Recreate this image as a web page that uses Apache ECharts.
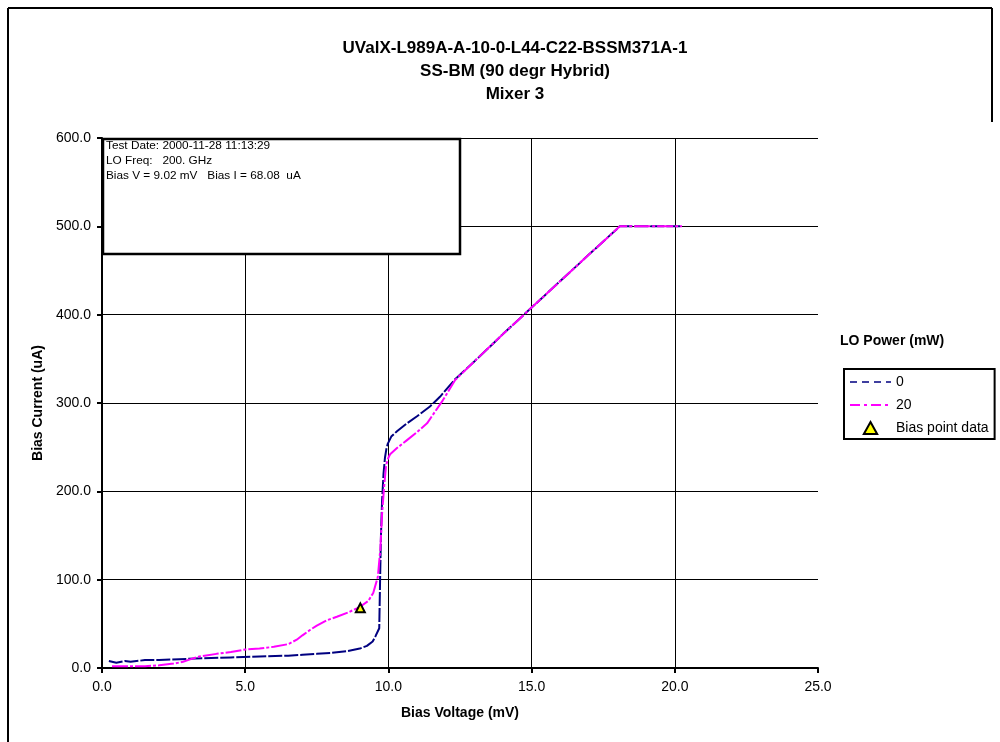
<!DOCTYPE html>
<html>
<head>
<meta charset="utf-8">
<script src="https://cdn.jsdelivr.net/npm/echarts@6/dist/echarts.min.js"></script>
<style>
html,body{margin:0;padding:0;background:#fff;}
#chart{width:1000px;height:742px;}
</style>
</head>
<body>
<div id="chart"></div>
<script>
// ---- Data ----
const titleLines = ['UValX-L989A-A-10-0-L44-C22-BSSM371A-1', 'SS-BM (90 degr Hybrid)', 'Mixer 3'];
const xTitle = 'Bias Voltage (mV)';
const yTitle = 'Bias Current (uA)';
const legendTitle = 'LO Power (mW)';
const infoLines = ['Test Date: 2000-11-28 11:13:29', 'LO Freq:   200. GHz', 'Bias V = 9.02 mV   Bias I = 68.08  uA'];
const seriesNames = ['0', '20', 'Bias point data'];

// LO power 0 mW
const v0 = [0.24, 0.5, 0.8, 1.0, 1.5, 2.0, 2.7, 3.5, 4.5, 5.5, 6.5, 7.0, 7.5, 8.0, 8.55, 9.0, 9.25, 9.45, 9.55, 9.68, 9.71, 9.74, 9.78, 9.83, 9.88, 9.93, 9.98, 10.1, 10.3, 10.65, 11.0, 11.45, 11.8, 12.33, 13.0, 14.0, 15.0, 16.0, 17.0, 18.08, 19.0, 20.25];
const i0 = [8, 6, 8, 7, 9, 9, 10, 11, 12, 13, 14, 15, 16, 17, 19, 22, 25, 30, 36, 45, 100, 150, 190, 220, 238, 248, 254, 262, 268, 277, 285, 296, 307, 327, 347, 378, 408, 438, 468, 500, 500, 500];

// LO power 20 mW
const v20 = [0.35, 1.0, 1.5, 2.0, 2.5, 2.83, 3.1, 3.4, 4.0, 4.5, 5.0, 5.5, 6.0, 6.5, 6.8, 7.0, 7.26, 7.5, 7.85, 8.2, 8.6, 9.0, 9.3, 9.47, 9.63, 9.72, 9.78, 9.85, 9.92, 10.0, 10.06, 10.3, 10.65, 11.0, 11.35, 11.9, 12.33, 13.0, 14.0, 15.0, 16.0, 17.0, 18.08, 19.0, 20.25];
const i20 = [2, 2, 2, 3, 5, 7, 10, 13, 16, 18, 21, 22, 24, 27, 32, 37, 43, 48, 54, 58, 63, 69, 76, 85, 103, 135, 175, 205, 230, 238, 242, 249, 258, 267, 277, 303, 326, 347, 378, 408, 438, 468, 500, 500, 500];

// Bias point
const biasV = [9.02];
const biasI = [68.08];

const xTicks = {min: 0, max: 25, interval: 5};
const yTicks = {min: 0, max: 600, interval: 100};

// ---- Chart ----
const FONT = "'Liberation Sans', Arial, sans-serif";
const chart = echarts.init(document.getElementById('chart'), null, {renderer: 'canvas'});

const zip = (a, b) => a.map((v, k) => [v, b[k]]);
const hiddenSym = {color: 'rgba(0,0,0,0)', borderWidth: 0, opacity: 0};

chart.setOption({
  animation: false,
  backgroundColor: '#ffffff',
  title: {
    text: titleLines.join('\n'),
    left: 510,
    top: 32,
    textAlign: 'center',
    textStyle: {fontFamily: FONT, fontSize: 17, fontWeight: 'bold', color: '#000', lineHeight: 23}
  },
  grid: {left: 102, right: 182, top: 138, bottom: 74, containLabel: false},
  xAxis: {
    type: 'value', min: xTicks.min, max: xTicks.max, interval: xTicks.interval,
    name: xTitle, nameLocation: 'middle', nameGap: 38,
    nameTextStyle: {fontFamily: FONT, fontSize: 14, fontWeight: 'bold', color: '#000'},
    axisLine: {show: true, onZero: false, lineStyle: {color: '#000', width: 2}},
    axisTick: {show: true, inside: false, length: 5, lineStyle: {color: '#000', width: 2}},
    axisLabel: {fontFamily: FONT, fontSize: 14, color: '#000', margin: 12, formatter: v => v.toFixed(1)},
    splitLine: {show: true, showMinLine: false, showMaxLine: false, lineStyle: {color: '#000', width: 1}}
  },
  yAxis: {
    type: 'value', min: yTicks.min, max: yTicks.max, interval: yTicks.interval,
    name: yTitle, nameLocation: 'middle', nameGap: 56,
    nameTextStyle: {fontFamily: FONT, fontSize: 14, fontWeight: 'bold', color: '#000'},
    axisLine: {show: true, onZero: false, lineStyle: {color: '#000', width: 2}},
    axisTick: {show: true, inside: false, length: 5, lineStyle: {color: '#000', width: 2}},
    axisLabel: {fontFamily: FONT, fontSize: 14, color: '#000', margin: 11, formatter: v => v.toFixed(1)},
    splitLine: {show: true, showMinLine: false, lineStyle: {color: '#000', width: 1}}
  },
  legend: {
    orient: 'vertical',
    left: 844, top: 369,
    padding: [6, 6, 4, 5],
    itemWidth: 41, itemHeight: 12, itemGap: 9, itemTextGap: 7,
    symbolKeepAspect: true,
    borderColor: '#000', borderWidth: 2,
    backgroundColor: '#fff',
    textStyle: {fontFamily: FONT, fontSize: 14, color: '#000'},
    data: [
      {name: seriesNames[0], lineStyle: {type: [7, 5], width: 1.5}, itemStyle: hiddenSym},
      {name: seriesNames[1], lineStyle: {type: [10, 4, 3, 4], width: 2}, itemStyle: hiddenSym},
      {name: seriesNames[2], icon: 'path://M5,0 L10,9 L0,9 Z', itemStyle: {color: '#ffff00', borderColor: '#000', borderWidth: 2}}
    ]
  },
  series: [
    {
      name: seriesNames[0], type: 'line', data: zip(v0, i0), symbol: 'none', z: 3,
      lineStyle: {color: '#000080', width: 2, type: [14, 2]},
      itemStyle: {color: '#000080'}
    },
    {
      name: seriesNames[1], type: 'line', data: zip(v20, i20), symbol: 'none', z: 4,
      lineStyle: {color: '#ff00ff', width: 2, type: [16, 2, 3, 2]},
      itemStyle: {color: '#ff00ff'}
    },
    {
      name: seriesNames[2], type: 'scatter', data: zip(biasV, biasI), symbol: 'triangle', symbolSize: 9, z: 5,
      itemStyle: {color: '#ffff00', borderColor: '#000', borderWidth: 2, opacity: 1}
    }
  ],
  graphic: [
    {type: 'rect', z: 100, shape: {x: 103, y: 139, width: 357, height: 115}, style: {fill: '#fff', stroke: '#000', lineWidth: 2.5}},
    {type: 'text', z: 101, left: 106, top: 138, style: {text: infoLines.join('\n'), font: '11.8px ' + FONT, fill: '#000', lineHeight: 15}},
    {type: 'text', z: 101, left: 840, top: 334, style: {text: legendTitle, font: 'bold 14px ' + FONT, fill: '#000'}},
    {type: 'line', z: 101, shape: {x1: 8, y1: 8, x2: 992, y2: 8}, style: {stroke: '#000', lineWidth: 2}},
    {type: 'line', z: 101, shape: {x1: 8, y1: 8, x2: 8, y2: 742}, style: {stroke: '#000', lineWidth: 2}},
    {type: 'line', z: 101, shape: {x1: 992, y1: 8, x2: 992, y2: 122}, style: {stroke: '#000', lineWidth: 2}}
  ]
});
</script>
</body>
</html>
